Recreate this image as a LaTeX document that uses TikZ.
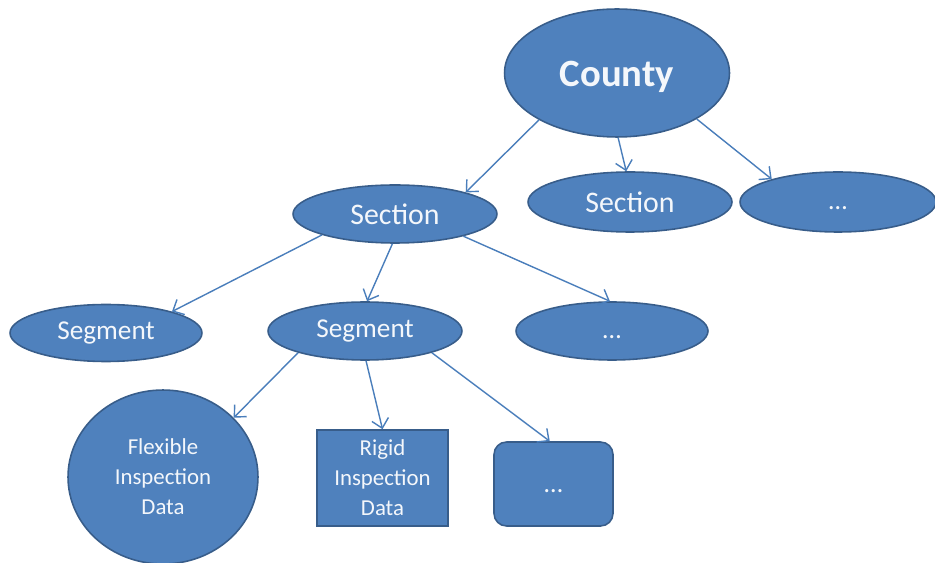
\documentclass[tikz,border=0pt]{standalone}
\usepackage{fontspec}
\setmainfont{Carlito}
\usetikzlibrary{shapes.geometric,arrows.meta}
\definecolor{boxfill}{HTML}{4F81BD}
\definecolor{boxline}{HTML}{385D8A}
\definecolor{arrowcol}{HTML}{4A7EBB}
\definecolor{txt}{HTML}{F4F7FB}
\newcommand{\lowdots}{\raisebox{-0.16cm}[0pt][0pt]{\dots}}
\tikzset{
  base/.style={fill=boxfill,draw=boxline,line width=0.9pt,text=txt,inner sep=0pt,align=center},
  oval/.style={base,ellipse},
  smalltxt/.style={font=\fontsize{13}{17}\selectfont},
  link/.style={draw=arrowcol,line width=0.8pt,-{Straight Barb[length=1.8mm,width=3.4mm]}}
}
\begin{document}
\begin{tikzpicture}[x=0.02cm,y=-0.02cm]
\useasboundingbox (0,0) rectangle (935,563);
\node[oval,minimum width=4.5cm,minimum height=2.56cm,font=\fontsize{22}{26}\selectfont\bfseries] (county) at (617,73) {\raisebox{-0.28cm}[0pt][0pt]{County}};
\node[oval,minimum width=4.08cm,minimum height=1.16cm,font=\fontsize{17}{20}\selectfont] (secL) at (395,214) {Section};
\node[oval,minimum width=4.08cm,minimum height=1.2cm,font=\fontsize{17}{20}\selectfont] (secM) at (630,202) {Section};
\node[oval,minimum width=3.92cm,minimum height=1.2cm,font=\fontsize{15}{18}\selectfont] (secR) at (838,202) {\lowdots};
\node[oval,minimum width=3.84cm,minimum height=1.14cm,font=\fontsize{15.5}{18}\selectfont] (segL) at (106,333) {Segment};
\node[oval,minimum width=3.88cm,minimum height=1.16cm,font=\fontsize{15.5}{18}\selectfont] (segM) at (365,331) {Segment};
\node[oval,minimum width=3.84cm,minimum height=1.16cm,font=\fontsize{15}{18}\selectfont] (segR) at (612,331) {\lowdots};
\node[oval,minimum width=3.8cm,minimum height=3.48cm,smalltxt] (flex) at (163,477) {Flexible\\Inspection\\Data};
\node[base,rectangle,minimum width=2.62cm,minimum height=1.92cm,smalltxt] (rigid) at (382.5,478) {Rigid\\Inspection\\Data};
\node[base,rectangle,rounded corners=0.25cm,minimum width=2.38cm,minimum height=1.68cm,font=\fontsize{15}{18}\selectfont] (more) at (553.5,484) {\lowdots};
\draw[link] (county.211) -- (secL.17);
\draw[link] (county.271) -- (secM.97);
\draw[link] (county.330) -- (secR.161);
\draw[link] (secL.196) -- (segL.18);
\draw[link] (secL.265) -- (segM.86);
\draw[link] (secL.342) -- (segR.94);
\draw[link] (segM.198) -- (flex.40);
\draw[link] (segM.272) -- (rigid.north);
\draw[link] (segM.342) -- (more.95);
\end{tikzpicture}
\end{document}
